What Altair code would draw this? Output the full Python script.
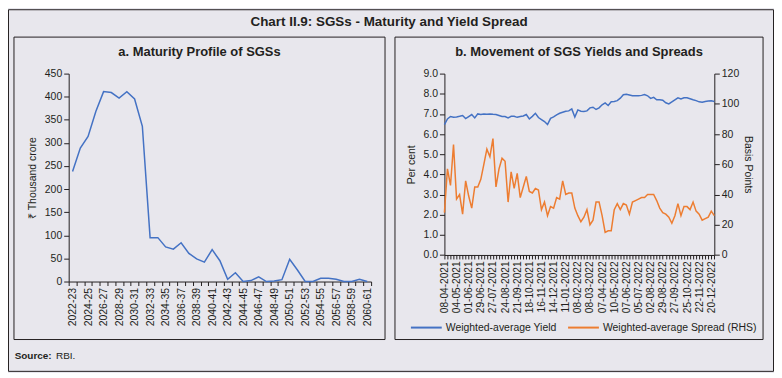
import json
import altair as alt
import pandas as pd

# ---------------- data ----------------
years = ["2022-23", "2023-24", "2024-25", "2025-26", "2026-27", "2027-28", "2028-29",
         "2029-30", "2030-31", "2031-32", "2032-33", "2033-34", "2034-35", "2035-36",
         "2036-37", "2037-38", "2038-39", "2039-40", "2040-41", "2041-42", "2042-43",
         "2043-44", "2044-45", "2045-46", "2046-47", "2047-48", "2048-49", "2049-50",
         "2050-51", "2051-52", "2052-53", "2053-54", "2054-55", "2055-56", "2056-57",
         "2057-58", "2058-59", "2059-60", "2060-61"]
maturity = [238, 289, 314, 368, 411, 409, 397, 411, 395, 336,
            95, 95, 75, 70, 84, 61, 49, 42, 69, 45,
            5, 19, 0, 2, 10, 0, 1, 4, 48, 25,
            0, 0, 7, 7, 5, 0, 0, 5, 0]

week_labels = ["08-04-2021", "04-05-2021", "01-06-2021", "29-06-2021", "27-07-2021",
               "24-08-2021", "21-09-2021", "18-10-2021", "16-11-2021", "14-12-2021",
               "11-01-2022", "08-02-2022", "08-03-2022", "07-04-2022", "10-05-2022",
               "07-06-2022", "05-07-2022", "02-08-2022", "29-08-2022", "27-09-2022",
               "25-10-2022", "22-11-2022", "20-12-2022"]

yield_vals = [6.47, 6.75, 6.87, 6.83, 6.85, 6.88, 6.92, 6.77, 6.87, 6.97,
              6.80, 7.00, 6.97, 7.00, 6.98, 7.00, 6.98, 6.97, 6.92, 6.87,
              6.87, 6.80, 6.88, 6.88, 6.83, 6.87, 6.90, 6.97, 6.75, 6.88,
              7.03, 6.82, 6.72, 6.62, 6.47, 6.78, 6.85, 6.95, 7.03, 7.08,
              7.13, 7.15, 7.25, 6.85, 7.20, 7.13, 7.12, 7.15, 7.30, 7.33,
              7.22, 7.30, 7.45, 7.55, 7.42, 7.60, 7.62, 7.66, 7.78, 7.95,
              7.98, 7.94, 7.90, 7.90, 7.90, 7.92, 7.96, 7.90, 7.77, 7.82,
              7.70, 7.70, 7.68, 7.55, 7.50, 7.60, 7.70, 7.80, 7.74, 7.80,
              7.80, 7.75, 7.70, 7.66, 7.60, 7.58, 7.62, 7.64, 7.65, 7.62]

spread_vals = [28, 57, 46, 73, 37, 40, 27, 49, 39, 31,
               45, 45, 50, 60, 70, 65, 77, 45, 57, 64,
               62, 35, 55, 44, 54, 38, 45, 52, 42, 41,
               44, 43, 30, 35, 26, 32, 31, 38, 37, 49,
               40, 41, 41, 31, 26, 22, 25, 30, 20, 23,
               35, 35, 26, 15, 16, 16, 30, 34, 30, 34,
               33, 27, 35, 36, 37, 38, 38, 40, 40, 40,
               36, 31, 28, 27, 25, 21, 26, 34, 26, 32,
               32, 30, 35, 29, 27, 23, 24, 25, 29, 26]

series_names = ["Weighted-average Yield", "Weighted-average Spread (RHS)"]

# ---------------- styles ----------------
BG = "#E8E7ED"
INK = "#231F20"
BLUE = "#4472C4"
ORANGE = "#ED7D31"
FONT = "Liberation Sans, Arial, sans-serif"
NARROW = "Liberation Sans Narrow, Arial Narrow, Liberation Sans, sans-serif"

one = pd.DataFrame({"k": [0]})


def frame(x, x2, y, y2):
    return alt.Chart(one).mark_rect(fill="transparent", stroke=INK, strokeWidth=1).encode(
        x=alt.value(x), x2=alt.value(x2), y=alt.value(y), y2=alt.value(y2))


def label(text, x, y, size=13, weight="bold", font=NARROW, align="center"):
    return alt.Chart(one).mark_text(text=text, font=font, fontSize=size, fontWeight=weight,
                                    color=INK, align=align, baseline="middle").encode(
        x=alt.value(x), y=alt.value(y))


# ---------------- left panel ----------------
LW, LH = 304, 209
left_df = pd.DataFrame({"year": years, "value": maturity})
left_line = alt.Chart(left_df).mark_line(color=BLUE, strokeWidth=1.5).encode(
    x=alt.X("year:N", sort=years,
            scale=alt.Scale(type="band", paddingInner=0, paddingOuter=0),
            axis=alt.Axis(title=None, labelAngle=-90, tickBand="extent", tickSize=4,
                          labelPadding=2,
                          labelExpr="parseInt(substring(datum.value, 0, 4)) % 2 == 0 ? datum.value : ''")),
    y=alt.Y("value:Q", scale=alt.Scale(domain=[0, 450]),
            axis=alt.Axis(title="₹ Thousand crore", values=list(range(0, 451, 50)),
                          tickSize=5, labelPadding=2, titlePadding=7)),
)
left = alt.layer(
    frame(-60.5, 708.5, -64.2, 299.3),
    frame(-55, 318, -36.7, 267.3),
    label("Chart II.9: SGSs - Maturity and Yield Spread", 322, -51.7, size=13.5),
    label("a. Maturity Profile of SGSs", 131.5, -21.7),
    label("Source:", -54.3, 284.3, size=10, font=FONT, align="left"),
    label("RBI.", -12.7, 284.3, size=10, weight="normal", font=FONT, align="left"),
    left_line,
).properties(width=LW, height=LH)

# ---------------- right panel ----------------
RW, RH = 271.3, 182.3
n = len(yield_vals)
right_df = pd.DataFrame({
    "week": list(range(n)) * 2,
    "series": [series_names[0]] * n + [series_names[1]] * n,
    "value": yield_vals + spread_vals,
})
xr = alt.X("week:O", scale=alt.Scale(type="point", padding=0),
           axis=alt.Axis(title=None, labelAngle=-90, tickSize=4, labelPadding=2,
                         labelFontSize=10.2,
                         labelExpr=f"datum.value % 4 == 0 ? {json.dumps(week_labels)}[datum.value / 4] : ''"))

# legend sits in the concat's coordinate frame (origin = left plot area)
color_main = alt.Color("series:N",
                       scale=alt.Scale(domain=series_names, range=[BLUE, ORANGE]),
                       legend=alt.Legend(title=None, orient="none", legendX=343, legendY=238.8,
                                         direction="horizontal", symbolType="stroke",
                                         symbolSize=961, symbolStrokeWidth=2,
                                         labelFont=FONT, labelFontSize=10.5, labelColor=INK,
                                         labelOffset=3, columnPadding=7))

yield_line = alt.Chart(right_df).transform_filter(
    alt.datum.series == series_names[0]
).mark_line(strokeWidth=1.5).encode(
    x=xr,
    y=alt.Y("value:Q", scale=alt.Scale(domain=[0, 9]),
            axis=alt.Axis(title="Per cent", values=list(range(0, 10)), format=".1f",
                          tickSize=5, labelPadding=2, titlePadding=6.5)),
    color=color_main,
)
spread_line = alt.Chart(right_df).transform_filter(
    alt.datum.series == series_names[1]
).mark_line(strokeWidth=1.5).encode(
    x=xr,
    y=alt.Y("value:Q", scale=alt.Scale(domain=[0, 120]),
            axis=alt.Axis(title="Basis Points", orient="right", values=list(range(0, 121, 20)),
                          tickSize=5, labelPadding=2, titlePadding=3.5)),
    color=alt.Color("series:N"),
)
right = alt.layer(
    frame(-49.7, 320.3, -36.7, 267.3),
    label("b. Movement of SGS Yields and Spreads", 135.3, -21.7),
    yield_line,
    spread_line,
).resolve_scale(y="independent").properties(width=RW, height=RH)

chart = alt.hconcat(left, right, spacing=73.7, bounds="flush").properties(
    padding=0, background=BG
).configure_view(strokeWidth=0).configure_axis(
    labelFont=FONT, labelFontSize=10.5, labelColor=INK,
    titleFont=FONT, titleFontSize=10.5, titleFontWeight="normal", titleColor=INK,
    domainColor=INK, tickColor=INK, grid=False,
)

chart.save("out.html", embed_options={"renderer": "svg", "actions": False})
